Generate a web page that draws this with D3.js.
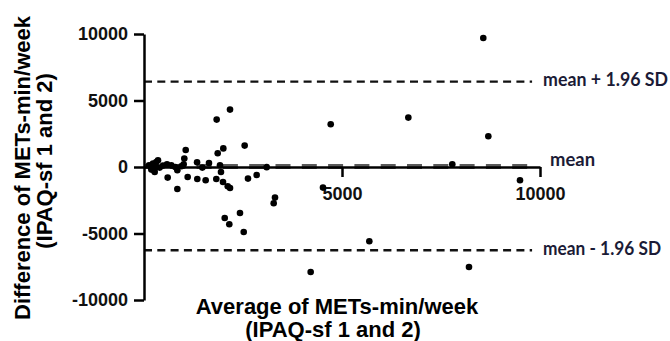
<!DOCTYPE html>
<html>
<head>
<meta charset="utf-8">
<script src="https://cdn.jsdelivr.net/npm/d3@7"></script>
<style>
  body { margin: 0; background: #fff; }
  text { font-family: "Liberation Sans", Arial, sans-serif; font-weight: bold; }
</style>
</head>
<body>
<div id="chart"></div>
<script>
// average of the two questionnaires (x) and their difference (y), METs-min/week
const avgVals  = [126, 185, 227, 311, 354, 295, 396, 270, 480, 581, 690, 790, 842, 942, 1002,
                  598, 842, 1018, 1053, 1103, 1340, 1346, 1473, 1557, 1641, 1826, 1835, 1861, 1919, 1944,
                  2003, 1995, 2114, 2172, 2172, 2038, 2154, 2424, 2518, 2542, 2626, 2845, 3098, 3308, 3275,
                  4520, 4715, 6675, 8568, 8695, 7785, 9495, 5690, 4209, 8207];
const diffVals = [128, -195, 256, 376, 504, -45, -45, -376, 105, 203, 128, 0, -248, 53, 203,
                  -797, -1654, 632, 1278, -752, 350, -902, -45, -1000, 301, -902, 3564, 1030, 128, -376,
                  1400, -1128, -1451, -1579, 4316, -3835, -4308, -3459, -4887, 1609, -872, -601, -10, -2301, -2729,
                  -1550, 3210, 3714, 9699, 2308, 203, -1000, -5586, -7895, -7519];

const meanDiff = 30;
const upperLoA = 6420;   // mean + 1.96 SD
const lowerLoA = -6260;  // mean - 1.96 SD
const lineEnd = 9800;

const xTicks = [5000, 10000];
const yTicks = [-10000, -5000, 0, 5000, 10000];

const width = 670, height = 341;

let svg = d3.select("#chart")
    .append("svg")
    .attr("width", width)
    .attr("height", height);

let x = d3.scaleLinear().domain([0, 10000]).range([144, 540]);
let y = d3.scaleLinear().domain([-10000, 10000]).range([300, 34]);

// mean line: thick grey dashes under the x axis
svg.append("line")
    .attr("x1", x(0)).attr("x2", x(lineEnd))
    .attr("y1", y(meanDiff)).attr("y2", y(meanDiff))
    .attr("stroke", "#5a5a5a")
    .attr("stroke-width", 5)
    .attr("stroke-dasharray", "15,11.3");

// limits of agreement
[upperLoA, lowerLoA].forEach(function(v) {
    svg.append("line")
        .attr("x1", x(0)).attr("x2", x(lineEnd))
        .attr("y1", y(v)).attr("y2", y(v))
        .attr("stroke", "#111")
        .attr("stroke-width", 2.4)
        .attr("stroke-dasharray", "8,5.3");
});

// y axis
let yAxis = svg.append("g")
    .attr("transform", `translate(${x(0)},0)`)
    .call(d3.axisLeft(y).tickValues(yTicks).tickSize(10).tickSizeOuter(0).tickPadding(6)
        .tickFormat(d => String(d)));

// x axis sits at zero
let xAxis = svg.append("g")
    .attr("transform", `translate(0,${y(0)})`)
    .call(d3.axisBottom(x).tickValues(xTicks).tickSize(10).tickSizeOuter(0).tickPadding(10)
        .tickFormat(d => String(d)));

[yAxis, xAxis].forEach(function(a) {
    a.selectAll("path, line").attr("stroke", "#000").attr("stroke-width", 2.5);
    a.selectAll("text")
        .attr("fill", "#111")
        .style("font-size", "18px")
        .style("font-weight", "bold")
        .style("font-family", "'Liberation Sans', Arial, sans-serif");
});

// points
svg.append("g").selectAll("circle")
    .data(avgVals.map((a, i) => [a, diffVals[i]]))
    .enter()
    .append("circle")
    .attr("cx", d => x(d[0]))
    .attr("cy", d => y(d[1]))
    .attr("r", 3.3)
    .attr("fill", "#000");

// line labels
let labels = [
    {t: "mean + 1.96 SD", v: upperLoA, dx: 11, dy: 4, len: 125},
    {t: "mean", v: meanDiff, dx: 18, dy: -0.5, len: 45},
    {t: "mean - 1.96 SD", v: lowerLoA, dx: 11, dy: 4.5, len: 118}
];
labels.forEach(function(l) {
    svg.append("text")
        .attr("x", x(lineEnd) + l.dx)
        .attr("y", y(l.v) + l.dy)
        .attr("fill", "#1b1b36")
        .attr("textLength", l.len)
        .attr("lengthAdjust", "spacingAndGlyphs")
        .style("font-family", "Lato, 'Open Sans', sans-serif")
        .style("font-size", "18px")
        .text(l.t);
});

// x axis title
svg.append("text")
    .attr("x", 337).attr("y", 314)
    .style("text-anchor", "middle")
    .style("font-size", "22px")
    .text("Average of METs-min/week");
svg.append("text")
    .attr("x", 333).attr("y", 337)
    .style("text-anchor", "middle")
    .style("font-size", "22px")
    .text("(IPAQ-sf 1 and 2)");

// y axis title
svg.append("text")
    .attr("transform", "translate(30,168) rotate(-90)")
    .style("text-anchor", "middle")
    .style("font-size", "22px")
    .text("Difference of METs-min/week");
svg.append("text")
    .attr("transform", "translate(52,161) rotate(-90)")
    .style("text-anchor", "middle")
    .style("font-size", "22px")
    .text("(IPAQ-sf 1 and 2)");
</script>
</body>
</html>
